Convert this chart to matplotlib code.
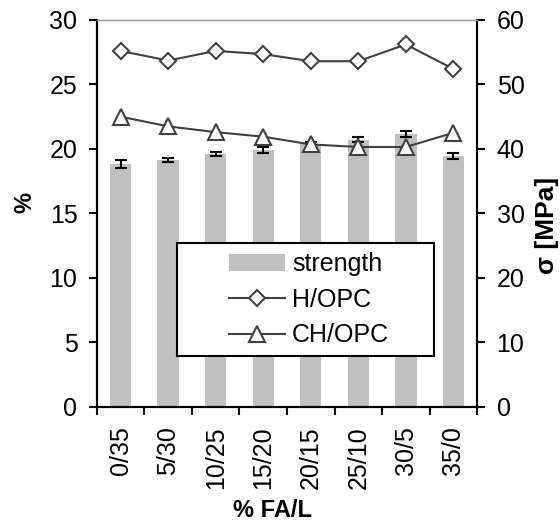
import numpy as np
import matplotlib
matplotlib.use("Agg")
import matplotlib.pyplot as plt
from matplotlib.patches import Rectangle

plt.rcParams['font.family'] = ['Liberation Sans', 'DejaVu Sans']

# data
mixes = ['0/35', '5/30', '10/25', '15/20', '20/15', '25/10', '30/5', '35/0']
strength = [37.7, 38.3, 39.2, 39.8, 40.8, 41.4, 42.3, 38.9]      # MPa
strength_err = [0.6, 0.3, 0.3, 0.5, 0.3, 0.4, 0.5, 0.5]
h_opc = [27.6, 26.85, 27.6, 27.35, 26.8, 26.8, 28.1, 26.2]       # %
ch_opc = [22.5, 21.75, 21.3, 20.95, 20.35, 20.15, 20.15, 21.25]  # %

fig = plt.figure(figsize=(5.6, 5.25), dpi=100)
ax = fig.add_axes([0.173, 0.225, 0.679, 0.737])
ax2 = ax.twinx()

x = np.arange(len(mixes))
line_col = '#404040'

bars = ax2.bar(x, strength, width=0.45, color='#c0c0c0', label='strength',
               yerr=strength_err, error_kw=dict(ecolor='black', elinewidth=1.5,
                                                capsize=4, capthick=1.5))
l1, = ax.plot(x, h_opc, color=line_col, lw=1.5, marker='D', ms=8,
              mfc='white', mec=line_col, mew=1.5, label='H/OPC')
l2, = ax.plot(x, ch_opc, color=line_col, lw=1.5, marker='^', ms=12,
              mfc='white', mec=line_col, mew=1.5, label='CH/OPC')

# lines above the bars
ax.set_zorder(ax2.get_zorder() + 1)
ax.patch.set_visible(False)

ax.set_xlim(-0.5, len(mixes) - 0.5)
ax.set_ylim(0, 30)
ax2.set_ylim(0, 60)
ax.set_yticks(range(0, 31, 5))
ax2.set_yticks(range(0, 61, 10))

ax.set_xticks(np.arange(-0.5, len(mixes)), [''] * (len(mixes) + 1))
ax.set_xticks(x, mixes, minor=True, rotation=90)
ax.tick_params(axis='x', which='minor', length=0, pad=14, labelsize=18)
ax.tick_params(axis='x', which='major', length=6, width=1.5, direction='out')
ax.tick_params(axis='y', length=6, width=1.5, labelsize=18, pad=8)
ax2.tick_params(axis='y', length=6, width=1.5, labelsize=18, pad=8)

for a in (ax, ax2):
    for s in a.spines.values():
        s.set_linewidth(1.5)
    a.spines['top'].set_color('#a0a0a0')
    a.spines['top'].set_linewidth(1)

ax.set_ylabel('%', fontsize=17, fontweight='bold', va='center')
ax.yaxis.set_label_coords(-0.189, 0.527)
ax2.set_ylabel('σ [MPa]', fontsize=19, fontweight='bold', va='center')
ax2.yaxis.set_label_coords(1.184, 0.469)
ax.set_xlabel('% FA/L', fontsize=17, fontweight='bold', va='center')
ax.xaxis.set_label_coords(0.463, -0.268)

# legend box drawn separately so the entries sit inside it like the original
ax.add_patch(Rectangle((0.212, 0.1326), 0.675, 0.291, transform=ax.transAxes,
                       fc='white', ec='black', lw=1.5, zorder=4.5))
leg = ax.legend([bars, l1, l2], ['strength', 'H/OPC', 'CH/OPC'],
                loc='center left', bbox_to_anchor=(0.347, 0.2765),
                fontsize=18, frameon=False, borderpad=0, borderaxespad=0,
                handlelength=2.24, handletextpad=0.28, labelspacing=0.46)

fig.savefig('out.png', dpi=100)
